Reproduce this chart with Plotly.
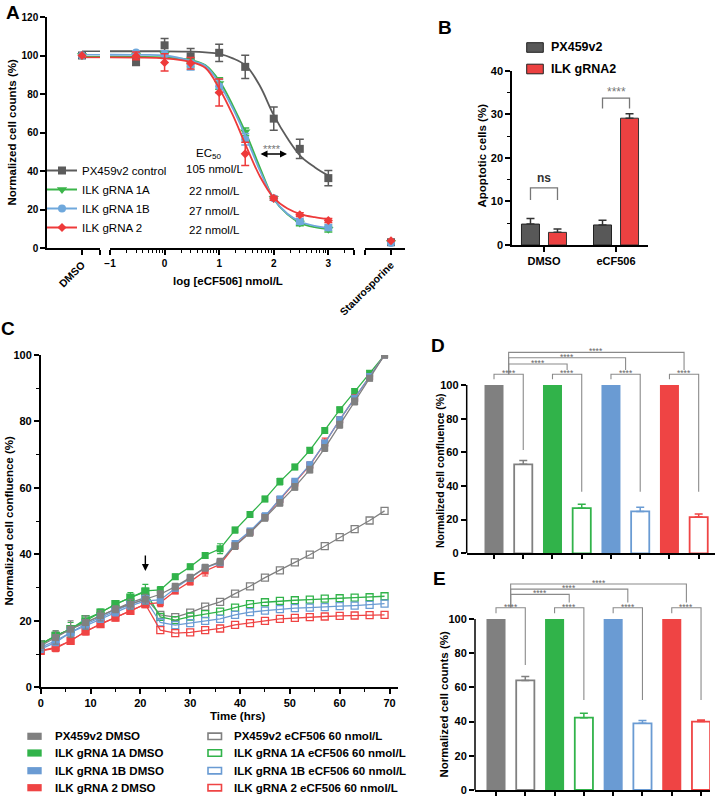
import plotly.graph_objects as go

W, H = 721, 797
FONT = "Liberation Sans, Arial, Helvetica, sans-serif"

# ---------------- panel A: dose response ----------------
a_names = ["PX459v2 control", "ILK gRNA 1A", "ILK gRNA 1B", "ILK gRNA 2"]
a_ec50 = ["105 nmol/L", "22 nmol/L", "27 nmol/L", "22 nmol/L"]
a_colors = ["#5b5b5b", "#3bb54a", "#6fa8dc", "#ee3a3a"]
a_symbols = ["square", "triangle-down", "circle", "diamond"]
a_conc = [0.3, 1, 3, 10, 30, 100, 300, 1000]
a_dmso = [100, 100, 100, 100]
a_counts = [
    [96.5, 105.3, 99.6, 101.4, 94.1, 67.2, 51.5, 36.3],
    [100.2, 100.6, 96.0, 85.5, 60.4, 25.8, 13.0, 9.8],
    [101.5, 100.5, 95.0, 84.0, 56.5, 25.8, 13.8, 10.7],
    [99.8, 96.4, 96.0, 80.8, 48.9, 25.8, 17.3, 14.3],
]
a_err = [
    [1.5, 3.5, 4.0, 4.5, 6.0, 6.0, 5.0, 4.0],
    [1.0, 1.5, 2.0, 3.0, 2.0, 1.0, 1.5, 1.5],
    [1.0, 2.0, 2.5, 3.5, 3.0, 1.0, 1.5, 1.5],
    [2.0, 4.5, 3.0, 7.0, 6.0, 1.0, 1.0, 1.0],
]
a_stauro = [3.0, 2.8, 2.6, 3.8]
a_fit_conc = [0.1, 0.316, 1, 3.16, 5.62, 10, 17.8, 31.6, 56.2, 100, 178, 316, 562, 1000]
a_fit = [
    [102.2, 102.2, 102.2, 102.0, 101.6, 100.8, 98.5, 94.5, 84.0, 69.0, 57.0, 47.5, 42.0, 37.6],
    [99.4, 99.3, 99.0, 97.5, 95.0, 87.0, 74.0, 59.0, 41.5, 25.5, 17.5, 12.8, 10.8, 9.8],
    [100.4, 100.3, 100.0, 97.0, 94.5, 85.5, 72.5, 57.0, 40.0, 25.5, 17.8, 13.5, 11.5, 10.5],
    [99.0, 98.9, 98.5, 96.5, 93.5, 83.0, 69.0, 52.5, 37.0, 26.0, 20.5, 17.5, 16.0, 15.0],
]
a_tickvals = [0.1, 1, 10, 100, 1000]
a_ticktext = ["−1", "0", "1", "2", "3"]

# ---------------- panel B: apoptosis ----------------
b_groups = ["DMSO", "eCF506"]
b_px459 = [4.8, 4.6]
b_px459_err = [1.3, 1.1]
b_ilk = [2.9, 29.1]
b_ilk_err = [0.8, 1.0]

# ---------------- panel C: confluence time course ----------------
c_time = [0, 3, 6, 9, 12, 15, 18, 21, 24, 27, 30, 33, 36, 39, 42, 45, 48, 51, 54, 57, 60, 63, 66, 69]
c_names = ["PX459v2", "ILK gRNA 1A", "ILK gRNA 1B", "ILK gRNA 2"]
cde_colors = ["#808080", "#31b34a", "#6a9bd3", "#ef4444"]
c_dmso = [
    [12.5, 15.0, 17.5, 19.5, 21.5, 23.5, 25.0, 26.5, 28.0, 30.3, 33.0, 36.0, 37.8, 42.5, 46.5, 51.0, 55.5, 60.3, 65.5, 72.0, 79.0, 86.0, 93.0, 100.0],
    [12.8, 15.5, 17.5, 20.0, 22.5, 25.0, 27.0, 29.0, 29.3, 33.3, 36.3, 39.7, 41.7, 47.3, 52.0, 56.7, 61.9, 66.3, 71.3, 77.3, 83.5, 89.0, 94.5, 100.0],
    [11.5, 13.5, 16.5, 18.5, 20.5, 22.5, 24.5, 26.0, 26.3, 29.8, 32.8, 36.0, 37.5, 43.3, 47.0, 51.5, 56.7, 62.0, 67.0, 73.5, 80.5, 87.0, 93.5, 100.0],
    [11.0, 11.7, 14.0, 16.8, 19.0, 21.0, 23.0, 25.0, 25.5, 29.0, 31.8, 35.0, 37.0, 42.7, 46.7, 51.3, 56.5, 61.5, 66.8, 73.5, 80.5, 87.0, 93.5, 100.0],
]
c_dmso_err = [
    [1.5, 2.0, 2.5, 2.0, 1.5, 1.0, 1.5, 1.5, 1.0, 1.0, 1.0, 1.0, 1.0, 1.0, 1.0, 1.0, 1.0, 1.0, 1.0, 1.0, 1.0, 1.0, 0.8, 0.0],
    [1.0, 1.5, 2.0, 1.5, 1.0, 1.0, 1.5, 2.0, 1.0, 0.8, 0.8, 0.8, 1.5, 0.8, 0.8, 0.8, 1.0, 0.8, 0.8, 0.8, 0.8, 0.8, 0.8, 0.0],
    [1.0, 1.0, 1.0, 1.0, 1.0, 1.0, 1.0, 1.0, 1.0, 0.8, 0.8, 0.8, 0.8, 0.8, 0.8, 1.0, 0.8, 0.8, 0.8, 0.8, 0.8, 0.8, 0.8, 0.0],
    [1.0, 1.0, 1.0, 1.0, 1.0, 1.0, 1.0, 1.0, 1.2, 0.8, 1.0, 1.5, 0.8, 1.0, 1.0, 1.0, 0.8, 1.0, 1.0, 1.5, 1.0, 1.0, 0.8, 0.0],
]
c_ecf = [
    [13.0, 15.5, 17.5, 19.5, 21.5, 23.5, 25.5, 27.0, 21.8, 21.1, 22.5, 24.3, 25.7, 28.2, 30.4, 33.0, 35.2, 37.6, 39.9, 42.5, 45.2, 47.6, 50.2, 53.1],
    [13.0, 15.5, 17.5, 20.5, 22.5, 25.0, 27.0, 28.8, 21.2, 20.2, 21.3, 22.0, 22.8, 24.0, 25.0, 25.6, 26.0, 26.2, 26.4, 26.7, 26.8, 27.0, 27.1, 27.4],
    [12.0, 14.0, 16.5, 19.0, 21.0, 23.0, 25.0, 26.5, 19.5, 18.7, 19.3, 20.0, 20.6, 21.8, 22.6, 23.1, 23.5, 23.8, 24.0, 24.1, 24.4, 24.6, 24.8, 25.2],
    [11.0, 12.0, 14.0, 16.8, 19.0, 21.0, 23.0, 25.0, 17.2, 16.3, 16.5, 17.2, 17.7, 18.8, 19.3, 20.0, 20.6, 20.9, 21.1, 21.3, 21.5, 21.6, 21.7, 21.8],
]
c_legend_dmso = ["PX459v2 DMSO", "ILK gRNA 1A DMSO", "ILK gRNA 1B DMSO", "ILK gRNA 2 DMSO"]
c_legend_ecf = ["PX459v2 eCF506 60 nmol/L", "ILK gRNA 1A eCF506 60 nmol/L",
                "ILK gRNA 1B eCF506 60 nmol/L", "ILK gRNA 2 eCF506 60 nmol/L"]

# ---------------- panels D and E: end point bars ----------------
de_dmso = [100, 100, 100, 100]
d_ecf = [52.9, 26.8, 24.9, 21.5]
d_ecf_err = [2.3, 2.3, 2.4, 1.8]
e_ecf = [64.1, 42.3, 39.0, 40.0]
e_ecf_err = [2.3, 2.6, 1.7, 1.0]


def px(x):
    return x / W


def py(y):
    return 1 - y / H


def tick_font(size=11):
    return dict(family=FONT, size=size, color="black", weight="bold")


AXIS = dict(
    showline=True, linecolor="black", linewidth=1.5, ticks="outside",
    ticklen=5, tickwidth=1.5, tickcolor="black", showgrid=False,
    zeroline=False, tickfont=tick_font(), automargin=False,
)

fig = go.Figure()
annotations = []
shapes = []


def label(x, y, text, size=11.5, bold=True, color="black", angle=0,
          xanchor="center", yanchor="middle"):
    annotations.append(dict(
        x=px(x), y=py(y), xref="paper", yref="paper", text=text,
        showarrow=False, textangle=angle, xanchor=xanchor, yanchor=yanchor,
        font=dict(family=FONT, size=size, color=color,
                  weight="bold" if bold else "normal"),
    ))


# ---------------- panel A traces ----------------
a_sizes = {"square": 8, "triangle-down": 9, "circle": 8, "diamond": 7}
for i in range(4):
    col, sym = a_colors[i], a_symbols[i]
    mk = dict(color=col, symbol=sym, size=a_sizes[sym])
    # plateau of the fit carried into the DMSO segment
    fig.add_trace(go.Scatter(x=[0, 0.34], y=[a_fit[i][0], a_fit[i][0]], xaxis="x", yaxis="y",
                             mode="lines", line=dict(color=col, width=1.5), showlegend=False))
    fig.add_trace(go.Scatter(x=[0], y=[a_dmso[i]], xaxis="x", yaxis="y", mode="markers",
                             marker=mk, showlegend=False))
    fig.add_trace(go.Scatter(x=a_fit_conc, y=a_fit[i], xaxis="x2", yaxis="y", mode="lines",
                             line=dict(color=col, width=1.8, shape="spline"), showlegend=False))
    fig.add_trace(go.Scatter(
        x=a_conc, y=a_counts[i], xaxis="x2", yaxis="y", mode="markers", marker=mk,
        error_y=dict(type="data", array=a_err[i], color=col, thickness=1.5, width=4),
        showlegend=False))
    fig.add_trace(go.Scatter(x=[0], y=[a_stauro[i]], xaxis="x3", yaxis="y", mode="markers",
                             marker=mk, showlegend=False))

for i in range(4):
    fig.add_trace(go.Scatter(
        x=[None], y=[None], xaxis="x2", yaxis="y", mode="lines+markers", name=a_names[i],
        line=dict(color=a_colors[i], width=2),
        marker=dict(color=a_colors[i], symbol=a_symbols[i], size=a_sizes[a_symbols[i]]),
        showlegend=True))

label(208, 154, "EC<sub>50</sub>", size=11.5, bold=False)
for i, txt in enumerate(a_ec50):
    label(215, [169.3, 190.7, 210.7, 230][i], txt, size=11.5, bold=False)
label(272, 149, "****", size=11, bold=False, color="#777777")
annotations.append(dict(x=px(287), y=py(154), xref="paper", yref="paper", text="",
                        showarrow=True, ax=-28, ay=0, arrowhead=2, arrowside="end+start",
                        arrowsize=1, arrowwidth=1.4, arrowcolor="black"))
label(228, 281, "log [eCF506] nmol/L")
label(12, 132.5, "Normalized cell counts (%)", angle=-90)
label(13, 13, "A", size=19)

# ---------------- panel B traces ----------------
fig.add_trace(go.Bar(
    x=[0, 1], y=b_px459, xaxis="x4", yaxis="y4", offset=-0.3125, width=0.25,
    marker=dict(color="#585858", line=dict(color="#222222", width=1)),
    error_y=dict(type="data", symmetric=False, array=b_px459_err, arrayminus=[0, 0],
                 color="#333333", thickness=1.5, width=4),
    showlegend=False))
fig.add_trace(go.Bar(
    x=[0, 1], y=b_ilk, xaxis="x4", yaxis="y4", offset=0.0625, width=0.25,
    marker=dict(color="#ec4141", line=dict(color="#333333", width=1)),
    error_y=dict(type="data", symmetric=False, array=b_ilk_err, arrayminus=[0, 0],
                 color="#333333", thickness=1.5, width=4),
    showlegend=False))
shapes.append(dict(type="path", xref="x4", yref="y4",
                   path="M -0.1875,10.3 L -0.1875,13.1 L 0.1875,13.1 L 0.1875,10.3",
                   line=dict(color="#777777", width=1.3)))
shapes.append(dict(type="path", xref="x4", yref="y4",
                   path="M 0.8125,31.3 L 0.8125,33.7 L 1.1875,33.7 L 1.1875,31.3",
                   line=dict(color="#777777", width=1.3)))
annotations.append(dict(x=0, y=13.1, xref="x4", yref="y4", text="ns", showarrow=False,
                        yanchor="bottom", yshift=1,
                        font=dict(family=FONT, size=12, color="#333333", weight="bold")))
annotations.append(dict(x=1, y=33.7, xref="x4", yref="y4", text="****", showarrow=False,
                        yanchor="bottom", yshift=-3,
                        font=dict(family=FONT, size=12, color="#777777")))
for (y0, y1), col, txt in zip([(42.7, 52.3), (64.2, 73.8)], ["#585858", "#ec4141"],
                              ["PX459v2", "ILK gRNA2"]):
    shapes.append(dict(type="rect", xref="paper", yref="paper", x0=px(526.7), x1=px(543.3),
                       y0=py(y1), y1=py(y0), fillcolor=col, line=dict(color="#222222", width=1)))
    label(548.5, (y0 + y1) / 2, txt, size=12.5, xanchor="left")
label(481.5, 156, "Apoptotic cells (%)", angle=-90)
label(445, 28, "B", size=19)

# ---------------- panel C traces ----------------
for i in range(4):
    fig.add_trace(go.Scatter(
        x=c_time, y=c_ecf[i], xaxis="x5", yaxis="y5", mode="lines+markers",
        line=dict(color=cde_colors[i], width=1.3),
        marker=dict(symbol="square-open", size=7, color=cde_colors[i], line=dict(width=1.3)),
        showlegend=False))
for i in [1, 3, 2, 0]:
    fig.add_trace(go.Scatter(
        x=c_time, y=c_dmso[i], xaxis="x5", yaxis="y5", mode="lines+markers",
        line=dict(color=cde_colors[i], width=1.3),
        marker=dict(symbol="square", size=7, color=cde_colors[i]),
        error_y=dict(type="data", array=c_dmso_err[i], color=cde_colors[i], thickness=1.2, width=3),
        showlegend=False))
annotations.append(dict(x=21, y=35, xref="x5", yref="y5", text="", showarrow=True,
                        ax=0, ay=-17, arrowhead=2, arrowsize=1, arrowwidth=1.4,
                        arrowcolor="black"))
label(238, 716, "Time (hrs)")
label(8.5, 521, "Normalized cell confluence (%)", angle=-90)
label(8, 328, "C", size=19)

legend_rows = [736.3, 753, 770.7, 787.7]
for i in range(4):
    yc = legend_rows[i]
    shapes.append(dict(type="rect", xref="paper", yref="paper", x0=px(27.3), x1=px(41.7),
                       y0=py(yc + 3.6), y1=py(yc - 3.6), fillcolor=cde_colors[i],
                       line=dict(width=0)))
    label(52.5, yc, c_legend_dmso[i], xanchor="left")
    shapes.append(dict(type="rect", xref="paper", yref="paper", x0=px(208), x1=px(221.5),
                       y0=py(yc + 3.2), y1=py(yc - 3.2), fillcolor="white",
                       line=dict(color=cde_colors[i], width=1.6)))
    label(231.5, yc, c_legend_ecf[i], xanchor="left")


# ---------------- panels D and E traces ----------------
def bar_panel(xa, ya, ecf, err, pair_y, pair_low, right_legs, levels, top_leg):
    for i in range(4):
        fig.add_trace(go.Bar(
            x=[2 * i], y=[de_dmso[i]], xaxis=xa, yaxis=ya, width=0.65,
            marker=dict(color=cde_colors[i], line=dict(width=0)), showlegend=False))
        fig.add_trace(go.Bar(
            x=[2 * i + 1], y=[ecf[i]], xaxis=xa, yaxis=ya, width=0.62,
            marker=dict(color="white", line=dict(color=cde_colors[i], width=1.8)),
            error_y=dict(type="data", symmetric=False, array=[err[i]], arrayminus=[0],
                         color=cde_colors[i], thickness=1.5, width=4),
            showlegend=False))
        l, r = 2 * i, 2 * i + 1
        shapes.append(dict(type="path", xref=xa, yref=ya,
                           path=f"M {l},{pair_low} L {l},{pair_y} L {r},{pair_y} L {r},{right_legs[i]}",
                           line=dict(color="#8a8a8a", width=1.1)))
        annotations.append(dict(x=l + 0.5, y=pair_y, xref=xa, yref=ya, text="****",
                                showarrow=False, yanchor="middle", yshift=1,
                                font=dict(family=FONT, size=8.5, color="#666666")))
    for j, lev in enumerate(levels, start=1):
        rx = 2 * j + 0.5
        shapes.append(dict(type="path", xref=xa, yref=ya,
                           path=f"M 0.5,{pair_y} L 0.5,{lev} L {rx},{lev} L {rx},{top_leg}",
                           line=dict(color="#8a8a8a", width=1.1)))
        annotations.append(dict(x=(0.5 + rx) / 2, y=lev, xref=xa, yref=ya, text="****",
                                showarrow=False, yanchor="middle", yshift=1,
                                font=dict(family=FONT, size=8.5, color="#666666")))
    shapes.append(dict(type="line", xref=f"{xa} domain", yref=ya, x0=0, x1=0, y0=0, y1=100,
                       line=dict(color="black", width=1.5)))


bar_panel("x6", "y6", d_ecf, d_ecf_err, 106.4, 103.4, [61.4, 36.6, 36.6, 36.6],
          [112.5, 116.2, 119.4], 108.9)
bar_panel("x7", "y7", e_ecf, e_ecf_err, 106.6, 103.3, [73.1, 52.6, 52.6, 52.6],
          [114.4, 117.5, 120.5], 109.6)
label(440, 470, "Normalized cell confluence (%)", size=10.5, angle=-90)
label(443.5, 704, "Normalized cell counts (%)", angle=-90)
label(438, 345, "D", size=19)
label(440, 578, "E", size=19)

# ---------------- layout ----------------
a_minor = [k * 10 ** p for p in range(-1, 4) for k in range(2, 10)]
bar_x = dict(AXIS, tickvals=list(range(8)), showticklabels=False, ticklen=4)
bar_y = dict(AXIS, tickvals=[0, 20, 40, 60, 80, 100], showline=False, range=[0, 122])

fig.update_layout(
    width=W, height=H, margin=dict(l=0, r=0, t=0, b=0, pad=0, autoexpand=False),
    paper_bgcolor="white", plot_bgcolor="white", barmode="overlay", showlegend=True,
    font=dict(family=FONT, color="black"),
    legend=dict(x=px(42), y=py(156), xanchor="left", yanchor="top", bgcolor="rgba(0,0,0,0)",
                font=dict(family=FONT, size=11.5, color="black"), itemwidth=30,
                tracegroupgap=0),
    xaxis=dict(AXIS, domain=[px(47), px(100)], range=[-0.66, 0.34], anchor="y",
               tickvals=[0, 0.335], ticktext=["DMSO", ""], tickangle=-45,
               tickfont=tick_font(10.5)),
    xaxis2=dict(AXIS, type="log", domain=[px(110), px(354)], range=[-1, 3.47], anchor="y",
                tickvals=a_tickvals + [2950], ticktext=a_ticktext + [""], tickangle=0,
                tickfont=tick_font(10),
                minor=dict(tickvals=a_minor, ticks="outside", ticklen=3, tickwidth=1,
                           tickcolor="black")),
    xaxis3=dict(AXIS, domain=[px(365), px(405)], range=[-0.65, 0.35], anchor="y",
                tickvals=[-0.645, 0], ticktext=["", "Staurosporine"], tickangle=-45,
                tickfont=tick_font(10.5)),
    yaxis=dict(AXIS, domain=[py(248), py(17)], range=[0, 120], dtick=20, anchor="x",
               tickfont=tick_font(10)),
    xaxis4=dict(AXIS, domain=[px(512), px(648)], range=[-0.444, 1.444], anchor="y4",
                tickvals=[0, 1], ticktext=b_groups),
    yaxis4=dict(AXIS, domain=[py(245), py(70.7)], range=[0, 40], dtick=10, anchor="x4",
                minor=dict(dtick=5, ticks="outside", ticklen=3, tickwidth=1.2,
                           tickcolor="black")),
    xaxis5=dict(AXIS, domain=[px(40.7), px(398)], range=[0, 71.7], dtick=10, anchor="y5",
                minor=dict(dtick=5, ticks="outside", ticklen=3, tickwidth=1.2,
                           tickcolor="black")),
    yaxis5=dict(AXIS, domain=[py(687.3), py(355)], range=[0, 100], dtick=20, anchor="x5",
                minor=dict(dtick=10, ticks="outside", ticklen=3, tickwidth=1.2,
                           tickcolor="black")),
    xaxis6=dict(bar_x, domain=[px(466.7), px(715)], range=[-0.934, 7.558], anchor="y6"),
    yaxis6=dict(bar_y, domain=[py(553.3), py(348)], anchor="x6"),
    xaxis7=dict(bar_x, domain=[px(475), px(710)], range=[-0.717, 7.306], anchor="y7"),
    yaxis7=dict(bar_y, domain=[py(790), py(581.4)], anchor="x7"),
    annotations=annotations,
    shapes=shapes,
)

# the page's default body margin would push the fixed-size figure off the window
fig.write_html("out.html", config={"displayModeBar": False},
               post_script="document.body.style.margin = '0';")
